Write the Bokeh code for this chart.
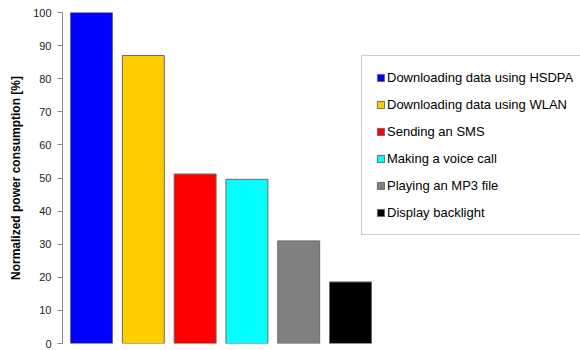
from bokeh.plotting import figure
from bokeh.models import Range1d, ColumnDataSource, Legend, LegendItem, FixedTicker
from bokeh.embed import file_html
from bokeh.resources import INLINE

categories = ["Downloading data using HSDPA", "Downloading data using WLAN",
              "Sending an SMS", "Making a voice call", "Playing an MP3 file",
              "Display backlight"]
values = [100, 87, 51.2, 49.6, 31, 18.6]
colors = ["#0000FF", "#FFCC00", "#FF0000", "#00FFFF", "#808080", "#000000"]
y_ticks = [0, 10, 20, 30, 40, 50, 60, 70, 80, 90, 100]

FONT = "Liberation Sans"

p = figure(width=580, height=350, output_backend="svg", toolbar_location=None,
           x_range=Range1d(0.44, 10.44), y_range=Range1d(0, 100),
           min_border_left=62, min_border_top=12, min_border_bottom=7, min_border_right=0)
p.outline_line_color = None
p.background_fill_color = "white"
p.border_fill_color = "white"
p.xgrid.visible = False
p.ygrid.visible = False
p.xaxis.visible = False

ax = p.yaxis[0]
ax.ticker = FixedTicker(ticks=y_ticks)
ax.axis_label = "Normalized power consumption [%]"
ax.axis_label_text_font = FONT
ax.axis_label_text_font_size = "12px"
ax.axis_label_text_font_style = "bold"
ax.axis_label_text_color = "black"
ax.axis_label_standoff = 7
ax.major_label_text_font = FONT
ax.major_label_text_font_size = "11px"
ax.major_label_text_color = "#222222"
ax.major_label_standoff = 6
ax.major_tick_out = 5
ax.major_tick_in = 0
ax.minor_tick_out = 0
ax.minor_tick_in = 0
ax.axis_line_color = "#888888"
ax.major_tick_line_color = "#888888"

items = []
for i, (cat, v, c) in enumerate(zip(categories, values, colors)):
    src = ColumnDataSource(dict(x=[i + 1], top=[v]))
    r = p.vbar(x="x", top="top", width=0.81, bottom=0, source=src,
               fill_color=c, line_color="#6a6a6a", line_width=1)
    items.append(LegendItem(label=cat, renderers=[r]))

legend = Legend(items=items, location=(299, 108))
legend.label_text_font = FONT
legend.label_text_font_size = "13px"
legend.label_text_color = "black"
legend.glyph_width = 9
legend.glyph_height = 9
legend.label_height = 15
legend.label_standoff = 2
legend.spacing = 12
legend.padding = 14
legend.margin = 0
legend.border_line_color = "#999999"
legend.border_line_width = 1
legend.background_fill_color = "white"
legend.background_fill_alpha = 1
p.add_layout(legend, "center")

open("out.html", "w").write(file_html(p, INLINE))
